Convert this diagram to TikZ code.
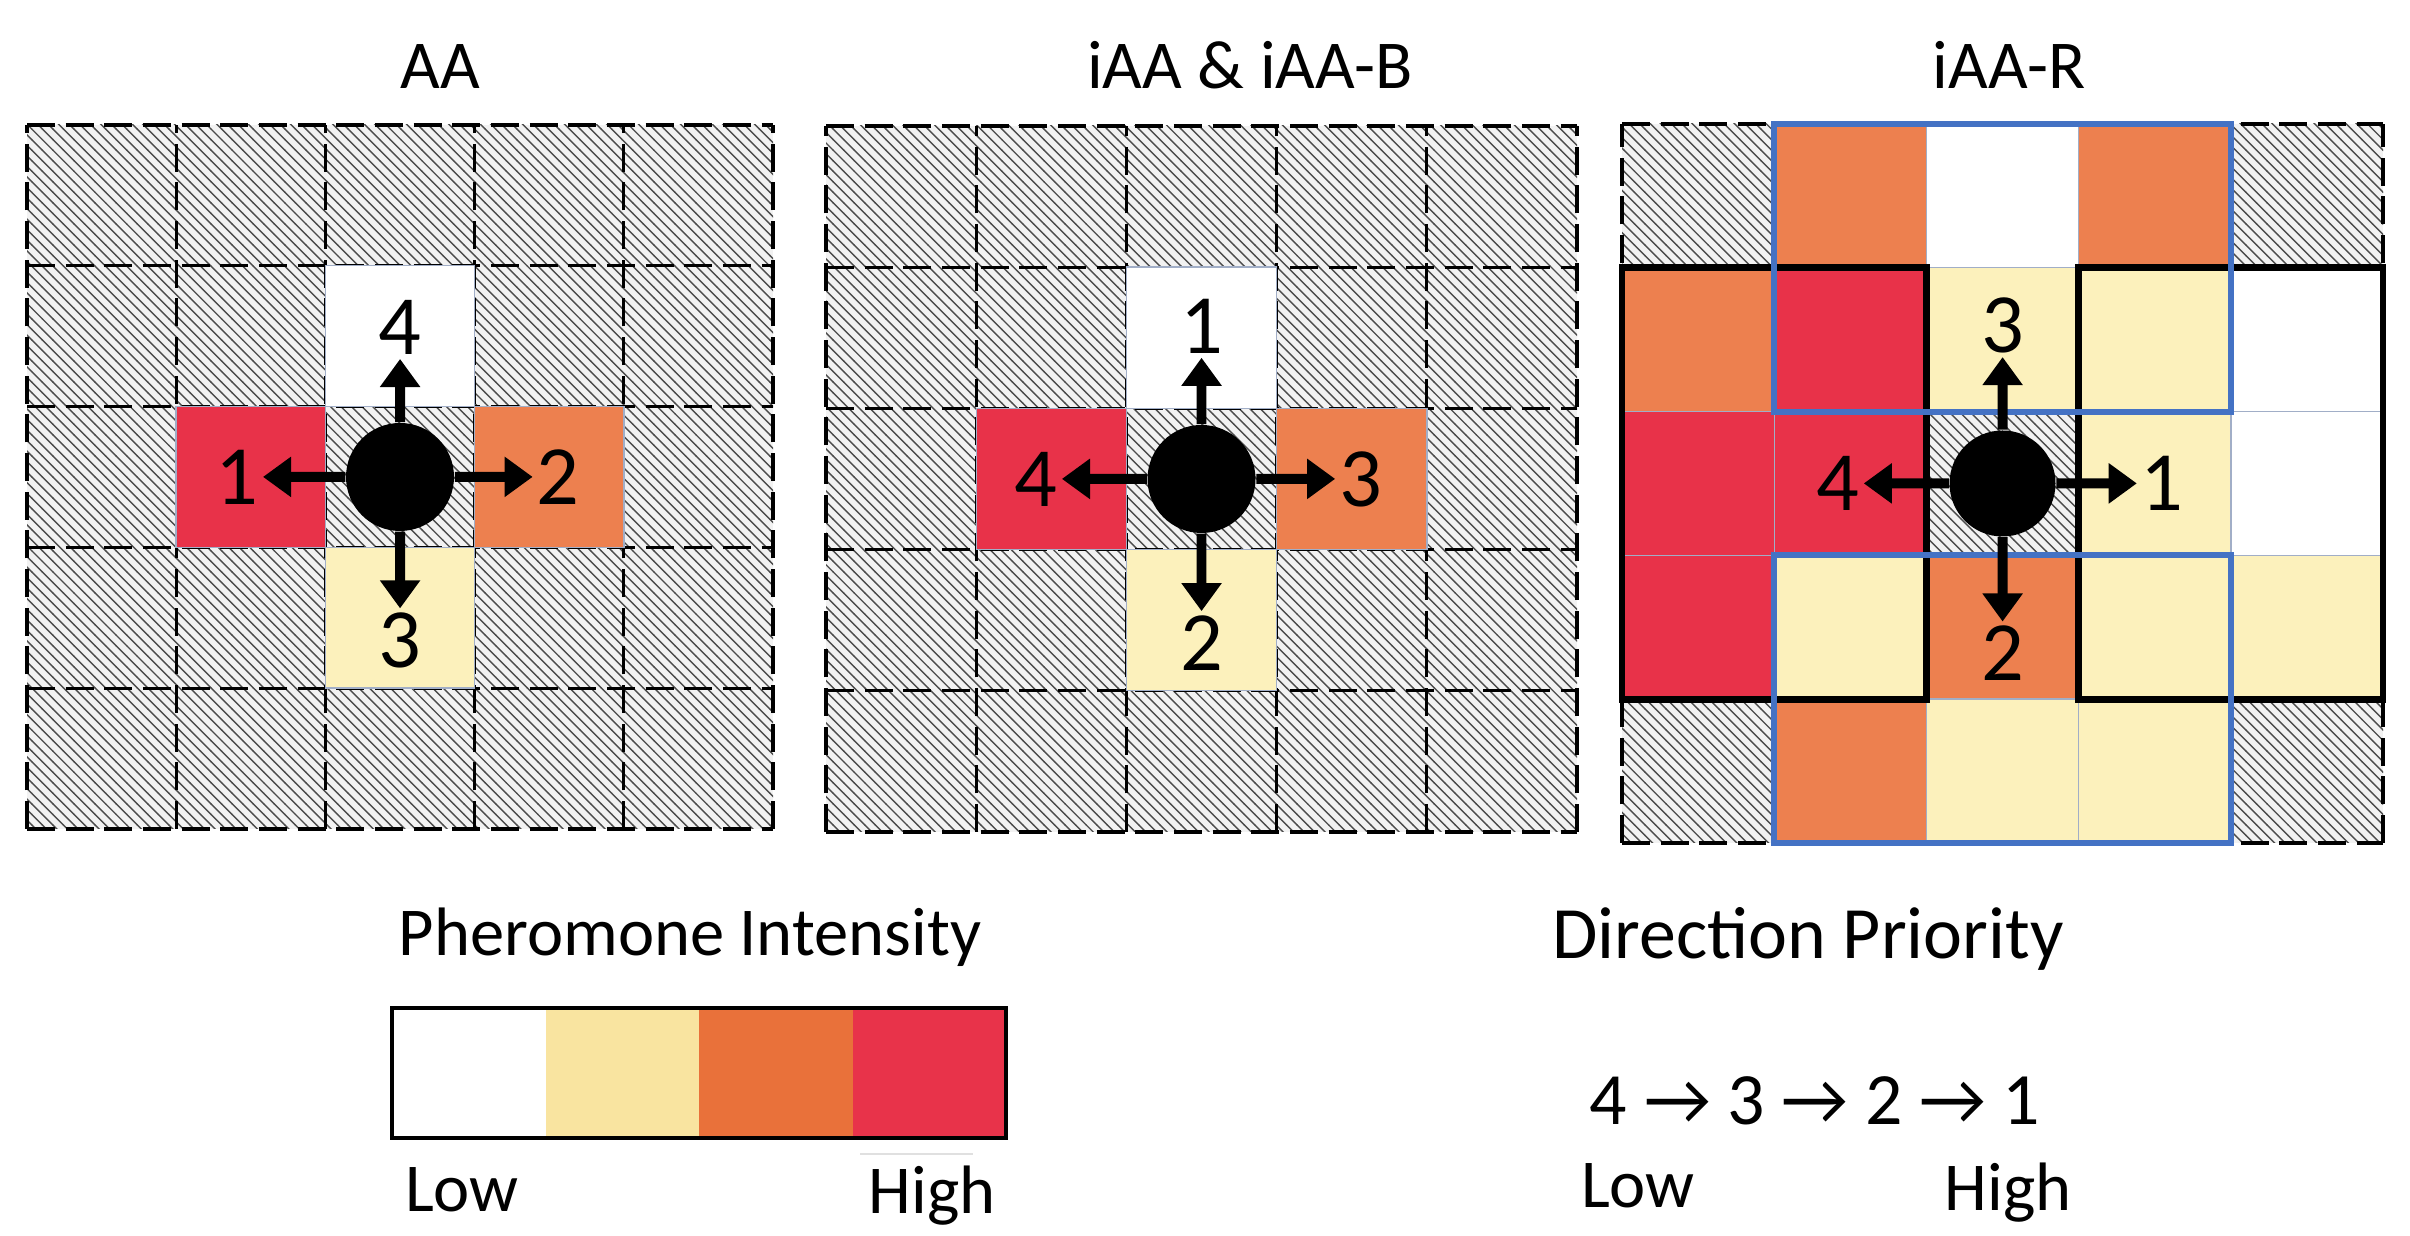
\documentclass[tikz,border=0pt]{standalone}
\usepackage{fontspec}
\setmainfont{Carlito}
\usepackage{tikz}
\usetikzlibrary{arrows.meta,patterns}
\usetikzlibrary{positioning}
\definecolor{phred}{RGB}{232,50,73}
\definecolor{phorange}{RGB}{237,128,79}
\definecolor{phyellow}{RGB}{252,241,188}
\definecolor{legyellow}{RGB}{249,228,160}
\definecolor{legorange}{RGB}{233,113,58}
\definecolor{legred}{RGB}{232,51,74}
\definecolor{boxblue}{RGB}{68,114,196}
\newcommand{\diagtext}{\fontsize{19.5}{23}\selectfont}
\newcommand{\diagbig}{\fontsize{21}{25}\selectfont}
\newcommand{\diagdigit}{\fontsize{24}{28}\selectfont}

\tikzset{
  hatched/.style={fill=black!5, postaction={pattern=north west lines, pattern color=black!70}},
  cell/.style={draw=boxblue!50!gray!60, line width=0.4pt},
  gridline/.style={black, line width=0.9pt, dash pattern=on 8pt off 3pt},
  agent/.style={circle, fill=black, minimum size=1.08cm, inner sep=0pt},
  dirlabel/.style={inner sep=1pt, font=\diagdigit},
  dirarrow/.style={line width=2.8pt, -{Triangle[width=11pt,length=8pt]}},
  blackbox/.style={black, line width=1.9pt},
  bluebox/.style={boxblue, line width=1.7pt},
  legendtext/.style={anchor=base, inner sep=0pt, font=\diagtext}
}

\begin{document}
\begin{tikzpicture}
  \useasboundingbox (0,0) rectangle (24.10,12.36);
  % Titles:
  \node[legendtext] (titleAA) at (4.40,11.47) {AA};
  \node[legendtext] (titleIAA) at (12.50,11.47) {iAA \& iAA-B};
  \node[legendtext] (titleIAAR) at (20.09,11.47) {iAA-R};

  \begin{scope}[shift={(0.27,4.07)}, xscale=1.492, yscale=1.408]
    % The frame:
    \fill[hatched] (0,0) rectangle (5,5);
    \foreach \i in {0,...,5} {
      \draw[gridline] (\i,0) -- (\i,5);
      \draw[gridline] (0,\i) -- (5,\i);
    }
    % Cells:
    \fill[white, cell] (2,3) rectangle (3,4);
    \fill[phred, cell] (1,2) rectangle (2,3);
    \fill[phorange, cell] (3,2) rectangle (4,3);
    \fill[phyellow, cell] (2,1) rectangle (3,2);
    % Agent:
    \node[agent] (agentAA) at (2.5,2.5) {};
    \node[dirlabel] (upAA) at (2.5,3.56) {4};
    \node[dirlabel] (leftAA) at (1.41,2.5) {1};
    \node[dirlabel] (rightAA) at (3.56,2.5) {2};
    \node[dirlabel] (downAA) at (2.5,1.34) {3};
    \foreach \d in {upAA,leftAA,rightAA,downAA}
      \draw[dirarrow] (agentAA) -- (\d);
  \end{scope}

  \begin{scope}[shift={(8.26,4.04)}, xscale=1.502, yscale=1.412]
    % The frame:
    \fill[hatched] (0,0) rectangle (5,5);
    \foreach \i in {0,...,5} {
      \draw[gridline] (\i,0) -- (\i,5);
      \draw[gridline] (0,\i) -- (5,\i);
    }
    % Cells:
    \fill[white, cell] (2,3) rectangle (3,4);
    \fill[phred, cell] (1,2) rectangle (2,3);
    \fill[phorange, cell] (3,2) rectangle (4,3);
    \fill[phyellow, cell] (2,1) rectangle (3,2);
    % Agent:
    \node[agent] (agentIAA) at (2.5,2.5) {};
    \node[dirlabel] (upIAA) at (2.5,3.58) {1};
    \node[dirlabel] (leftIAA) at (1.40,2.5) {4};
    \node[dirlabel] (rightIAA) at (3.56,2.5) {3};
    \node[dirlabel] (downIAA) at (2.5,1.34) {2};
    \foreach \d in {upIAA,leftIAA,rightIAA,downIAA}
      \draw[dirarrow] (agentIAA) -- (\d);
  \end{scope}

  \begin{scope}[shift={(16.22,3.93)}, xscale=1.522, yscale=1.438]
    % The frame:
    \fill[hatched] (0,0) rectangle (5,5);
    \foreach \i in {0,...,5} {
      \draw[gridline] (\i,0) -- (\i,5);
      \draw[gridline] (0,\i) -- (5,\i);
    }
    % Cells:
    \foreach \c/\x/\y in {phorange/1/4, white/2/4, phorange/3/4,
        phorange/0/3, phred/1/3, phyellow/2/3, phyellow/3/3, white/4/3,
        phred/0/2, phred/1/2, phyellow/3/2, white/4/2,
        phred/0/1, phyellow/1/1, phorange/2/1, phyellow/3/1, phyellow/4/1,
        phorange/1/0, phyellow/2/0, phyellow/3/0}
      \fill[fill=\c, cell] (\x,\y) rectangle ++(1,1);
    % Neighbourhoods:
    \draw[blackbox] (0,1) rectangle (2,4);
    \draw[blackbox] (3,1) rectangle (5,4);
    \draw[bluebox] (1,3) rectangle (4,5);
    \draw[bluebox] (1,0) rectangle (4,2);
    % Agent:
    \node[agent, minimum size=1.06cm] (agentIAAR) at (2.5,2.5) {};
    \node[dirlabel] (upIAAR) at (2.5,3.6) {3};
    \node[dirlabel] (leftIAAR) at (1.42,2.5) {4};
    \node[dirlabel] (rightIAAR) at (3.55,2.5) {1};
    \node[dirlabel] (downIAAR) at (2.5,1.32) {2};
    \foreach \d in {upIAAR,leftIAAR,rightIAAR,downIAAR}
      \draw[dirarrow] (agentIAAR) -- (\d);
  \end{scope}

  % Pheromone legend:
  \foreach \c [count=\i from 0] in {white,legyellow,legorange,legred}
    \fill[\c] (3.92+1.535*\i,0.98) rectangle ++(1.535,1.30);
  \draw[line width=0.9pt] (3.92,0.98) rectangle (10.06,2.28);
  \draw[black!12, line width=0.6pt] (8.60,0.82) -- (9.73,0.82);
  \node[legendtext] (pheromone) at (6.90,2.80) {Pheromone Intensity};
  \node[legendtext] (lowPher) at (4.62,0.24) {Low};
  \node[legendtext] (highPher) at (9.32,0.22) {High};

  % Priority legend:
  \node[legendtext, font=\diagbig] (priority) at (18.08,2.77) {Direction Priority};
  \node[legendtext, font=\diagbig] (order) at (18.15,1.11) {4 → 3 → 2 → 1};
  \node[legendtext] (lowPrio) at (16.38,0.28) {Low};
  \node[legendtext] (highPrio) at (20.08,0.25) {High};
\end{tikzpicture}
\end{document}
